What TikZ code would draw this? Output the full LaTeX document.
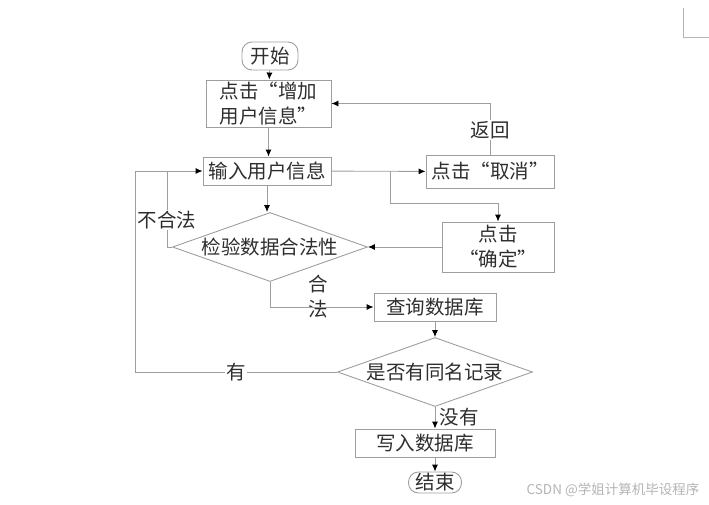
\documentclass[tikz,border=0pt]{standalone}
\usepackage{fontspec}
\setmainfont{Noto Sans CJK SC}
\usepackage{tikz}
\usetikzlibrary{positioning}
\usetikzlibrary{calc,arrows.meta}
\usetikzlibrary{shapes.geometric}
\definecolor{fc-line}{HTML}{9E9E9E}
\definecolor{fc-text}{HTML}{2E2E2E}
\definecolor{fc-mark}{HTML}{B4B4B4}

\begin{document}
\begin{tikzpicture}[
    x=1pt, y=-1pt,
    font=\fontsize{19.5}{25}\selectfont,
    text=fc-text
  ]

  \tikzset{
    box/.style={draw=fc-line, line width=0.9pt, inner sep=0pt, align=center},
    term/.style={box, rounded corners=10pt},
    check/.style={diamond, draw=fc-line, line width=0.9pt, inner sep=0pt, minimum width=195pt, minimum height=69pt},
    flow/.style={draw=fc-line, line width=0.9pt, -{Latex[length=7pt,width=6pt,color=black]}},
    link/.style={draw=fc-line, line width=0.9pt},
    note/.style={fill=white, inner sep=1pt}
  }

  % page size and corner mark
  \useasboundingbox (0,0) rectangle (709,504);
  \draw[fc-mark, line width=1pt] (683,8) -- (683,37) -- (709,37);

  % Nodes
  \node (start)  [term, minimum width=56pt, minimum height=28pt] at (270,56) {开始};
  \node (add)    [box, minimum width=125pt, minimum height=47pt] at (268.5,103.5) {点击“增加\\用户信息”};
  \node (input)  [box, minimum width=128pt, minimum height=28pt] at (267,171) {输入用户信息};
  \node (cancel) [box, minimum width=128pt, minimum height=33pt] at (490,171.5) {点击“取消”};
  \node (ok)     [box, minimum width=112pt, minimum height=50pt] at (498,247) {点击\\“确定”};
  \node (chk)    [check] at (270,247) {\makebox[0pt]{检验数据合法性}};
  \node (query)  [box, minimum width=122pt, minimum height=28pt] at (435,307) {查询数据库};
  \node (dup)    [check] at (435,372) {\makebox[0pt]{是否有同名记录}};
  \node (write)  [box, minimum width=140pt, minimum height=28pt] at (425,443) {写入数据库};
  \node (stop)   [term, minimum width=53pt, minimum height=21pt] at (435,482.5) {结束};
  \node (legal)  [align=center, inner sep=0pt] at (318,297) {合\\法};
  \node (mark)   [text=fc-mark, font=\fontsize{13.5}{16}\selectfont] at (613,490) {CSDN @学姐计算机毕设程序};

  % helper points
  \coordinate (split) at (390,171);
  \coordinate (bad)   at (167,171);
  \coordinate (back)  at (135,372);

  % Connections
  \draw[flow] (start) -- (add);
  \draw[flow] (add.south) -- (add.south |- input.north);
  \draw[flow] (input) -- (cancel);
  \draw[flow] (cancel.north) |- node[note, pos=0.24] {返回} (add.east);
  \draw[flow] (split) -- ++(0,32) -| (ok.north);
  \draw[flow] (ok) -- (chk);
  \draw[flow] (input.south) -- (input.south |- chk.north);
  \draw[link] (chk.west) -| node[note, pos=0.68] {不合法} (bad);
  \draw[flow] (dup.west) -- node[note] {有} (back) |- (input.west);
  \draw[flow] (chk.south) |- (query.west);
  \draw[flow] (query) -- (dup);
  \draw[flow] (dup.south) -- node[right=1pt, pos=0.45] {没有} (dup.south |- write.north);
  \draw[flow] (dup.south |- write.south) -- (stop);

\end{tikzpicture}
\end{document}
